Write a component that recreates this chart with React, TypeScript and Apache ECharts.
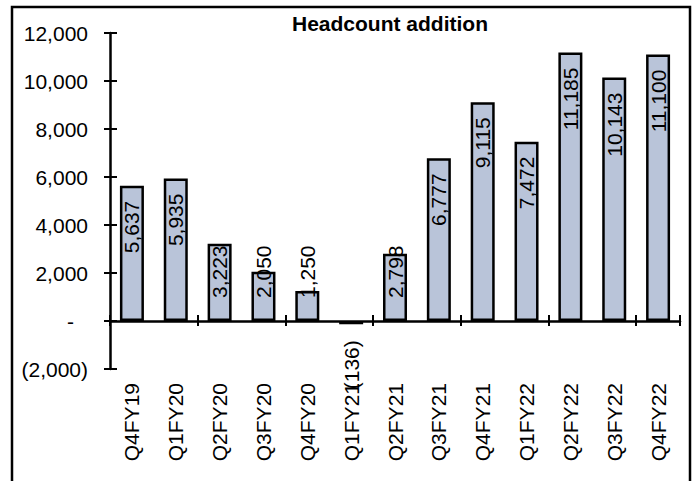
import React, { useEffect, useRef } from "react";
import * as echarts from "echarts";

const categories = [
  "Q4FY19", "Q1FY20", "Q2FY20", "Q3FY20", "Q4FY20", "Q1FY21", "Q2FY21",
  "Q3FY21", "Q4FY21", "Q1FY22", "Q2FY22", "Q3FY22", "Q4FY22",
];
const headcountAdded = [5637, 5935, 3223, 2050, 1250, -136, 2798, 6777, 9115, 7472, 11185, 10143, 11100];
// bars too short for a label inside their top end (label pushed up from base)
const shortBars = ["Q2FY20", "Q3FY20", "Q4FY20", "Q2FY21"];
const yMin = -2000;
const yMax = 12000;
const yStep = 2000;
const title = "Headcount addition";

const FONT = '"Liberation Sans", Arial, Helvetica, sans-serif';

function fmtNum(v: number): string {
  const s = Math.abs(v).toLocaleString("en-US");
  if (v < 0) return `(${s})`;
  return s;
}

export default function App() {
  const ref = useRef<HTMLDivElement>(null);
  useEffect(() => {
    if (!ref.current) return;
    const chart = echarts.init(ref.current, undefined, { renderer: "svg" });
    const seriesData = headcountAdded.map((v, i) => {
      const cat = categories[i];
      let label: any;
      if (v < 0) {
        label = { position: "bottom", distance: 16, align: "right", verticalAlign: "middle" };
      } else if (shortBars.includes(cat)) {
        label = { position: "insideBottom", distance: 23, align: "left", verticalAlign: "middle" };
      } else {
        label = { position: "insideTop", distance: 15, align: "right", verticalAlign: "middle" };
      }
      return { value: v, label };
    });
    chart.setOption({
      animation: false,
      backgroundColor: "#ffffff",
      textStyle: { fontFamily: FONT },
      title: {
        text: title,
        left: 390,
        top: 13,
        padding: 0,
        textAlign: "center",
        textStyle: { fontFamily: FONT, fontSize: 21, fontWeight: "bold", color: "#000" },
      },
      graphic: [
        {
          type: "rect",
          z: -10,
          shape: { x: 12, y: 7, width: 678, height: 520 },
          style: { fill: "none", stroke: "#000", lineWidth: 2.5 },
        },
      ],
      grid: { left: 110, right: 17, top: 33, bottom: 112, containLabel: false },
      xAxis: [
        {
          type: "category",
          data: categories,
          axisLine: { show: true, onZero: true, onZeroAxisIndex: 0, lineStyle: { color: "#000", width: 2.5 } },
          axisTick: { show: true, inside: true, length: 6, lineStyle: { color: "#000", width: 2 } },
          axisLabel: { show: false },
          splitLine: { show: false },
        },
        {
          type: "category",
          data: categories,
          position: "bottom",
          axisLine: { show: false, onZero: true, onZeroAxisIndex: 1 },
          axisTick: { show: true, inside: false, length: 5, lineStyle: { color: "#000", width: 2 } },
          axisLabel: { show: false },
          splitLine: { show: false },
        },
        {
          type: "category",
          data: categories,
          position: "bottom",
          axisLine: { show: false, onZero: false },
          axisTick: { show: false },
          axisLabel: {
            show: true,
            rotate: 90,
            margin: 14,
            interval: 0,
            fontFamily: FONT,
            fontSize: 21,
            color: "#000",
          },
          splitLine: { show: false },
        },
      ],
      yAxis: [
        {
          type: "value",
          position: "left",
          min: yMin,
          max: yMax,
          interval: yStep,
          axisLine: { show: true, onZero: false, lineStyle: { color: "#000", width: 2.5 } },
          axisTick: { show: true, inside: false, length: 6, lineStyle: { color: "#000", width: 2 } },
          axisLabel: {
            margin: 22,
            fontFamily: FONT,
            fontSize: 21,
            color: "#000",
            formatter: (v: number) => (v === 0 ? "{z|-}" : fmtNum(v)),
            rich: { z: { fontFamily: FONT, fontSize: 21, color: "#000", padding: [0, 14, 0, 0] } },
          },
          splitLine: { show: false },
        },
        {
          type: "value",
          position: "left",
          min: yMin,
          max: yMax,
          interval: yStep,
          axisLine: { show: false, onZero: false },
          axisTick: { show: true, inside: true, length: 7, lineStyle: { color: "#000", width: 2 } },
          axisLabel: { show: false },
          splitLine: { show: false },
        },
      ],
      series: [
        {
          type: "bar",
          xAxisIndex: 0,
          yAxisIndex: 0,
          data: seriesData,
          barWidth: 24,
          itemStyle: { color: "#B9C4D9", borderColor: "#000", borderWidth: 2.5 },
          label: {
            show: true,
            rotate: 90,
            fontFamily: FONT,
            fontSize: 21,
            color: "#000",
            formatter: (p: any) => fmtNum(p.value),
          },
        },
      ],
    });
    return () => chart.dispose();
  }, []);
  return (
    <div
      ref={ref}
      style={{ position: "absolute", left: 0, top: 0, width: 697, height: 481 }}
    />
  );
}
